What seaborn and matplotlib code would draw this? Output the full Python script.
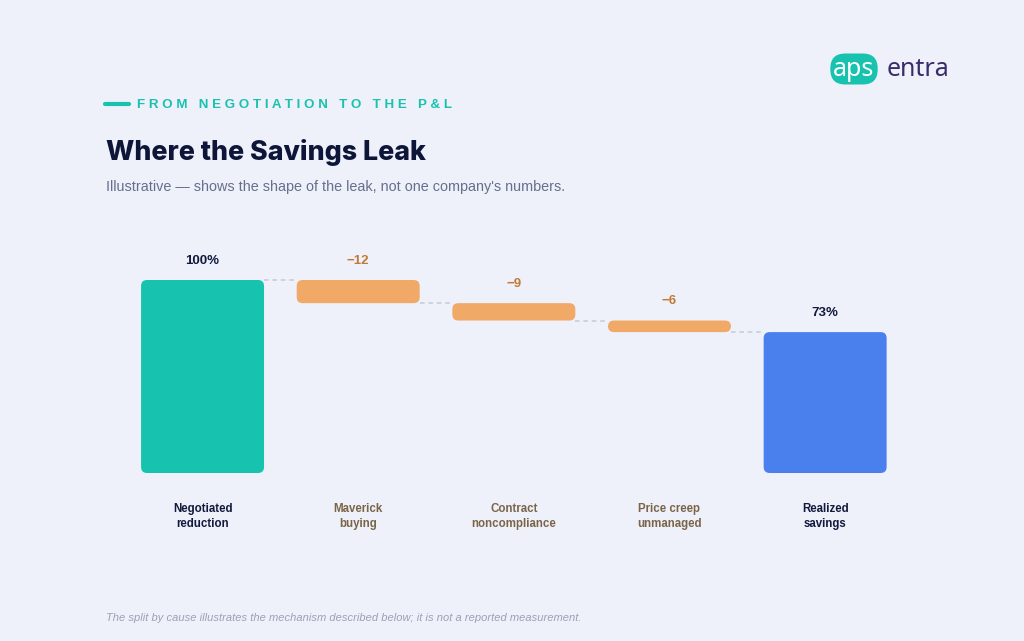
import matplotlib.pyplot as plt
import seaborn as sns
import pandas as pd
from matplotlib.patches import FancyBboxPatch

# chart values
categories = ["Negotiated\nreduction", "Maverick\nbuying", "Contract\nnoncompliance",
              "Price creep\nunmanaged", "Realized\nsavings"]
values = [100, -12, -9, -6, 73]
kinds = ["total", "leak", "leak", "leak", "total"]
value_labels = ["100%", "\u221212", "\u22129", "\u22126", "73%"]

BG = "#eef0fa"
TEAL = "#17c2ae"
ORANGE = "#f0a966"
BLUE = "#4a7fee"
NAVY = "#121a3d"
BROWN = "#7a6548"
LEAK_TXT = "#c07a35"

sns.set_theme(style="white")
plt.rcParams['font.family'] = ['Liberation Sans', 'DejaVu Sans']

# waterfall spans
bottoms, heights = [], []
running = 0
for v, k in zip(values, kinds):
    if k == "total":
        bottoms.append(0)
        heights.append(v)
        running = v
    else:
        running += v
        bottoms.append(running)
        heights.append(-v)

df = pd.DataFrame({"category": categories, "height": heights,
                   "bottom": bottoms, "kind": kinds})
bar_colors = [TEAL, ORANGE, ORANGE, ORANGE, BLUE]

fig = plt.figure(figsize=(10.24, 6.41), dpi=100, facecolor=BG)
ax_l, ax_b, ax_w, ax_h = 0.1218, 0.2621, 0.760, 0.3613
ax = fig.add_axes([ax_l, ax_b, ax_w, ax_h])
ax.set_facecolor(BG)

sns.barplot(data=df, x="category", y="height", hue="category",
            palette=bar_colors, width=0.79, saturation=1, legend=False, ax=ax)
ax.set_xlim(-0.5, 4.5)
ax.set_ylim(0, 120)

# rounded bars, lifted to their waterfall bottom
px_x = ax_w * 1024 / 5.0
px_y = ax_h * 641 / 120.0
aspect = px_x / px_y
radius = 6 / px_x
for p in list(ax.patches):
    i = int(round(p.get_x() + p.get_width() / 2))
    x0, w, h = p.get_x(), p.get_width(), p.get_height()
    fc = p.get_facecolor()
    p.remove()
    ax.add_patch(FancyBboxPatch((x0, bottoms[i]), w, h,
                                boxstyle=f"round,pad=0,rounding_size={radius}",
                                mutation_aspect=aspect, fc=fc, ec="none", zorder=2))

# connectors
half = 0.79 / 2
for i in range(len(values) - 1):
    level = bottoms[i] + heights[i] if kinds[i] == "total" else bottoms[i]
    ax.plot([i + half, i + 1 - half], [level, level], color="#c6cad8",
            lw=1.1, ls=(0, (3, 2.5)), zorder=1)

# value labels
for i, (lab, k) in enumerate(zip(value_labels, kinds)):
    top = bottoms[i] + heights[i]
    ax.annotate(lab, (i, top), xytext=(0, 14), textcoords="offset points",
                ha="center", va="center", fontsize=9.5, fontweight="bold",
                color=NAVY if k == "total" else LEAK_TXT)

ax.set_xlabel("")
ax.set_ylabel("")
ax.set_yticks([])
ax.set_xticks(range(len(categories)))
ax.set_xticklabels(categories, fontsize=8.3, fontweight="bold", linespacing=1.4)
for t, k in zip(ax.get_xticklabels(), kinds):
    t.set_color(NAVY if k == "total" else BROWN)
ax.tick_params(axis="x", length=0, pad=21.5)
sns.despine(ax=ax, left=True, bottom=True)


def fx(px):
    return px / 1024


def fy(py):
    return 1 - py / 641


# header
fig.add_artist(plt.Line2D([fx(105), fx(129)], [fy(104), fy(104)], color=TEAL, lw=3,
                          solid_capstyle="round"))
kicker = "FROM NEGOTIATION TO THE P&L"
fig.text(fx(137), fy(105.5), " ".join(kicker), fontsize=9.6, fontweight="bold",
         color=TEAL, va="center", ha="left")
fig.text(fx(106), fy(152), "Where the Savings Leak", fontsize=19.3, fontweight="heavy",
         color="#0d1638", va="center", ha="left", family=['Inter', 'DejaVu Sans'])
fig.text(fx(106), fy(187), "Illustrative \u2014 shows the shape of the leak, not one company's numbers.",
         fontsize=10.35, color="#66708c", va="center", ha="left")

# logo
fig.text(fx(854), fy(69), "aps", fontsize=18, color="white", ha="center", va="center",
         family=['Noto Sans', 'DejaVu Sans'],
         bbox=dict(boxstyle="round,pad=0.12,rounding_size=0.6", fc=TEAL, ec="none"))
fig.text(fx(887), fy(69), "entra", fontsize=18, color="#3a2c6a", ha="left", va="center",
         family=['Noto Sans', 'DejaVu Sans'])

# footer
fig.text(fx(106), fy(618), "The split by cause illustrates the mechanism described below; "
         "it is not a reported measurement.", fontsize=8, style="italic",
         color="#9ba1b5", va="center", ha="left")

fig.savefig("out.png", dpi=100, facecolor=BG)
